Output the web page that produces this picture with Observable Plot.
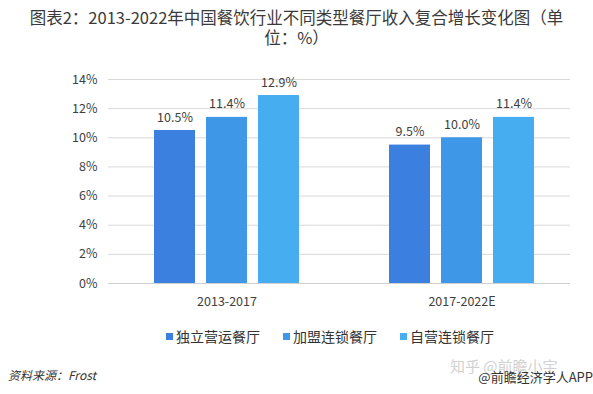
<!DOCTYPE html>
<html>
<head>
<meta charset="utf-8">
<script src="https://cdn.jsdelivr.net/npm/d3@7"></script>
<script src="https://cdn.jsdelivr.net/npm/@observablehq/plot@0.6"></script>
<style>
  body { margin: 0; background: #fff; }
  #wrap { position: relative; width: 593px; height: 394px; overflow: hidden; background: #fff;
    font-family: "Noto Sans CJK SC", "Noto Sans", sans-serif; color: #404040; }
  #title { position: absolute; left: 0; top: 7px; width: 593px; text-align: center; font-size: 16.5px; line-height: 20px; color: #3a3a3a; }
  #chart { position: absolute; left: 0; top: 48px; }
  #legend { position: absolute; left: 166px; top: 326px; display: flex; gap: 23px; font-size: 14px; line-height: 20px; color: #333; white-space: nowrap; }
  #legend span.sw { display: inline-block; width: 7px; height: 7px; margin-right: 3px; vertical-align: 2px; }
  #src { position: absolute; left: 8px; top: 366px; font-size: 12px; font-style: italic; color: #333; }
  #app { position: absolute; right: 0; top: 367px; font-size: 13px; color: #333; }
  #zh { position: absolute; left: 450px; top: 355px; font-size: 15px; color: #d2d2d2; }
</style>
</head>
<body>
<div id="wrap">
  <div id="title">图表2：2013-2022年中国餐饮行业不同类型餐厅收入复合增长变化图（单<br>位：%）</div>
  <div id="chart"></div>
  <div id="legend"></div>
  <div id="zh">知乎 @前瞻小宇</div>
  <div id="src">资料来源：Frost</div>
  <div id="app">@前瞻经济学人APP</div>
</div>
<script>
const periods = ["2013-2017", "2017-2022E"];
const seriesNames = ["独立营运餐厅", "加盟连锁餐厅", "自营连锁餐厅"];
const independent = [10.5, 9.5];
const franchise = [11.4, 10.0];
const selfOperated = [12.9, 11.4];
const yTicks = [0, 2, 4, 6, 8, 10, 12, 14];
const colors = ["#3b80de", "#3e97e7", "#45adf0"];

const seriesValues = [independent, franchise, selfOperated];
const rows = seriesValues.map((vals, si) => periods.map((p, pi) => ({period: p, series: seriesNames[si], value: vals[pi]})));

const bandHalf = 117.5, barW = 41, step = 52;
const marks = [
  Plot.gridY(yTicks, {stroke: "#d9d9d9", strokeOpacity: 1}),
  Plot.ruleY([0], {stroke: "#d0d0d0"})
];
rows.forEach((data, si) => {
  const off = (si - 1) * step;
  marks.push(Plot.barY(data, {
    x: "period", y: "value", fill: colors[si],
    insetLeft: bandHalf + off - barW / 2,
    insetRight: bandHalf - off - barW / 2
  }));
  marks.push(Plot.text(data, {
    x: "period", y: "value", dx: off, dy: -9, lineAnchor: "bottom",
    text: d => d.value.toFixed(1) + "%", fill: "#404040", fontSize: 12.5
  }));
});
marks.push(Plot.axisY({ticks: yTicks, tickFormat: d => d + "%", tickSize: 0, tickPadding: 11, fontSize: 12.5, fill: "#404040", label: null}));
marks.push(Plot.axisX({tickSize: 0, tickPadding: 14, fontSize: 12.5, fill: "#404040", label: null}));

const chart = Plot.plot({
  width: 593,
  height: 265,
  marginTop: 31,
  marginBottom: 30,
  marginLeft: 108,
  marginRight: 23,
  style: {fontFamily: "'Noto Sans CJK SC', 'Noto Sans', sans-serif", background: "transparent", color: "#404040"},
  x: {domain: periods, range: [226 - bandHalf, 461 + bandHalf], padding: 0},
  y: {domain: [0, 14]},
  marks
});
document.getElementById("chart").appendChild(chart);

const legend = document.getElementById("legend");
seriesNames.forEach((n, i) => {
  const item = document.createElement("div");
  item.innerHTML = `<span class="sw" style="background:${colors[i]}"></span>${n}`;
  legend.appendChild(item);
});
</script>
</body>
</html>
